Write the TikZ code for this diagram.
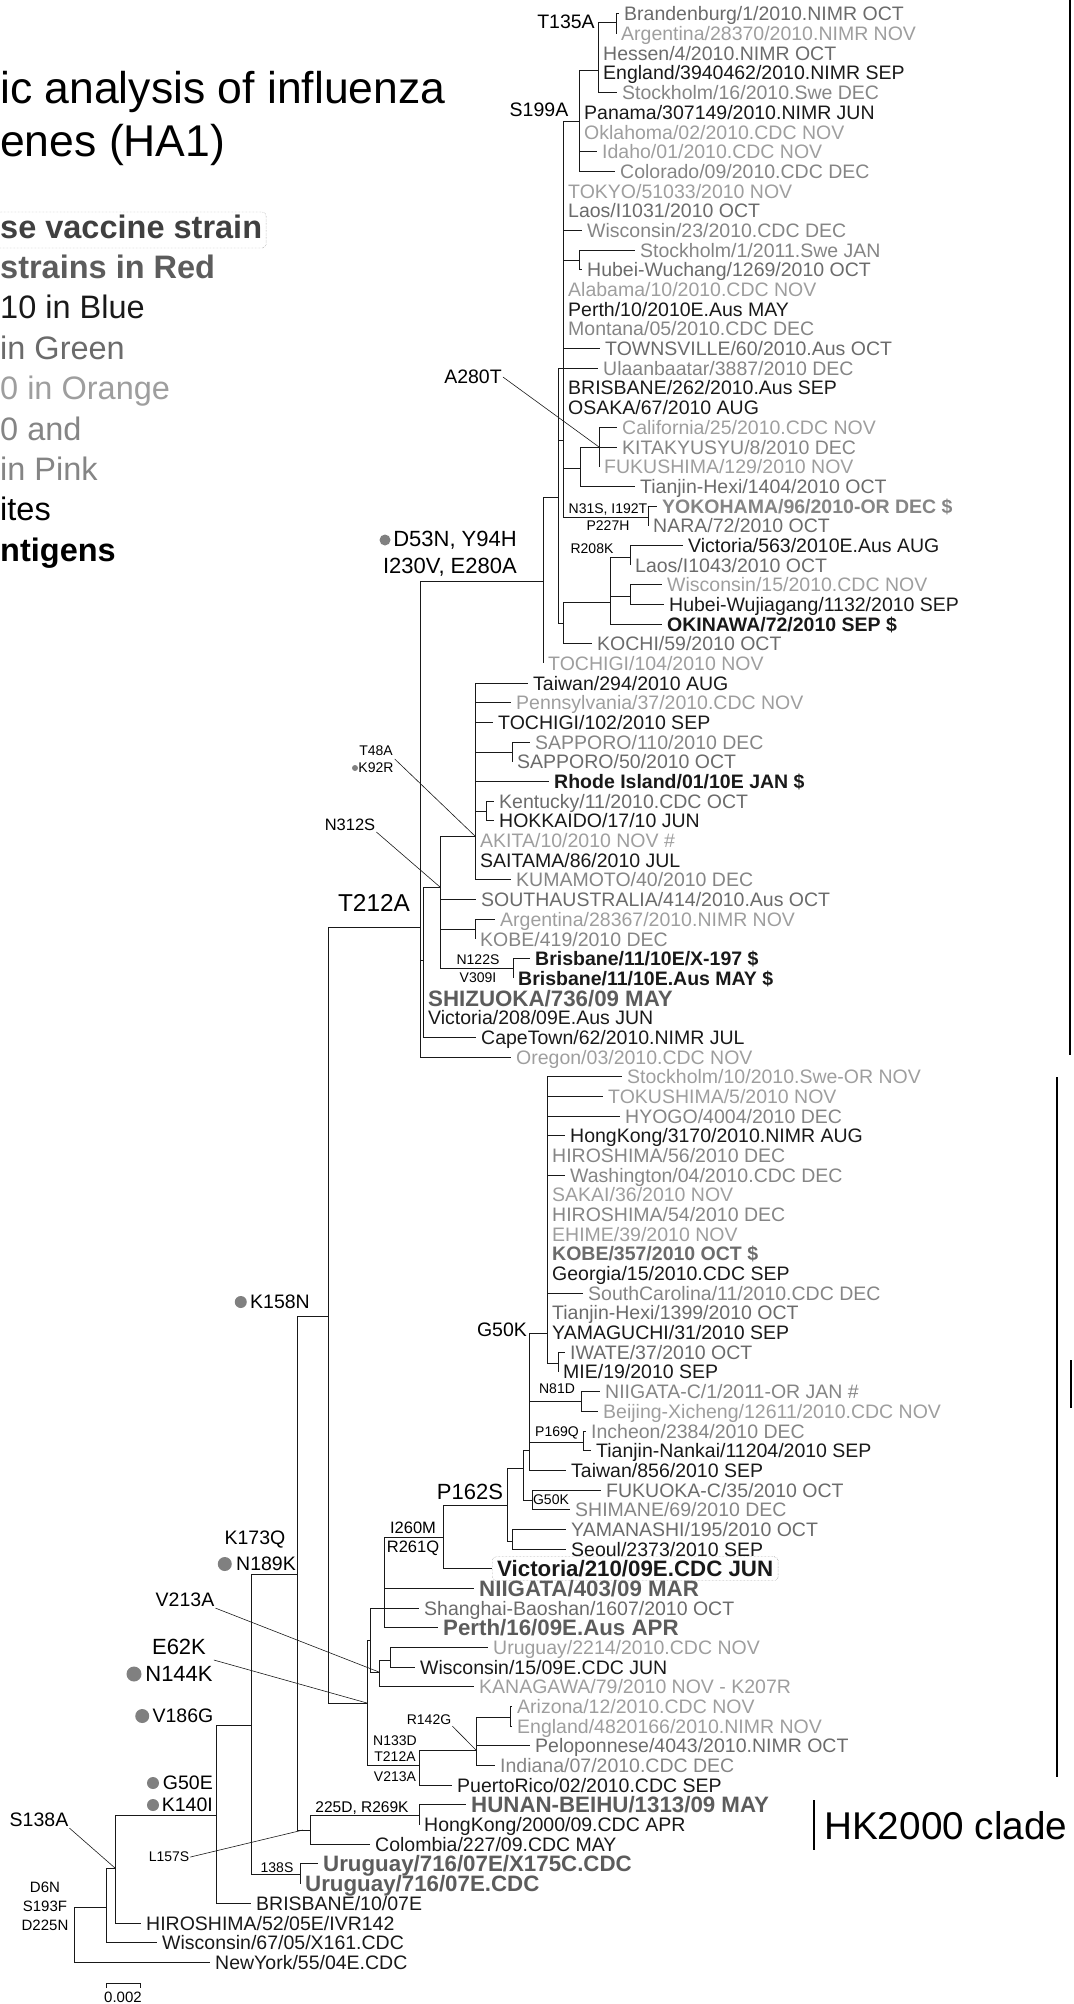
\documentclass[tikz,border=0pt]{standalone}
\usepackage{fontspec}
\setmainfont{Liberation Sans}
\usetikzlibrary{positioning}
\definecolor{strainblue}{gray}{0.1}
\definecolor{straingreen}{gray}{0.42}
\definecolor{strainorange}{gray}{0.62}
\definecolor{strainpink}{gray}{0.52}
\definecolor{strainred}{gray}{0.36}
\definecolor{vaccinegray}{gray}{0.25}
\definecolor{dotgray}{gray}{0.5}

\begin{document}
\begin{tikzpicture}[x=1pt,y=-1pt,
  branch/.style={line width=1pt,black!90},
  leader/.style={line width=0.6pt,black!90},
  cladebar/.style={line width=2.6pt},
  leaf/.style={anchor=west,inner xsep=5pt,inner ysep=0pt,text height=14pt,text depth=0pt,
               font=\fontsize{19.5}{22}\selectfont},
  bleaf/.style={leaf,text=strainblue},
  gleaf/.style={leaf,text=straingreen},
  oleaf/.style={leaf,text=strainorange},
  pleaf/.style={leaf,text=strainpink},
  antigen/.style={leaf,text=#1,font=\fontsize{19.5}{22}\selectfont\bfseries},
  rleaf/.style={leaf,text=strainred,text height=16pt,font=\fontsize{22.3}{26}\selectfont\bfseries},
  mut/.style={inner sep=1pt,align=center,font=\fontsize{14}{17}\selectfont},
  medmut/.style={inner sep=1pt,align=center,font=\fontsize{16.5}{19}\selectfont},
  midmut/.style={inner sep=1pt,align=center,font=\fontsize{19.5}{22}\selectfont},
  bigmut/.style={inner sep=1pt,align=center,font=\fontsize{22}{27}\selectfont},
  gdot/.style={circle,fill=dotgray,inner sep=0pt,minimum size=#1},
  legend/.style={anchor=base west,inner sep=0pt,font=\fontsize{32.5}{38}\selectfont}]
\useasboundingbox (0,0) rectangle (1073,2004);

\node[anchor=base west,inner sep=0pt,font=\fontsize{44.5}{50}\selectfont] (title1) at (0,104) {ic analysis of influenza};
\node[anchor=base west,inner sep=0pt,font=\fontsize{44.5}{50}\selectfont] (title2) at (0,157) {enes (HA1)};

\node[legend,text=vaccinegray,font=\fontsize{32.5}{38}\selectfont\bfseries,draw=black!50,densely dotted,
      rounded corners=4pt,inner xsep=4pt,inner ysep=3pt,text height=23pt,text depth=7pt] (leg1) at (-4,238) {se vaccine strain};
\node[legend,text=strainred,font=\fontsize{32.5}{38}\selectfont\bfseries] (leg2) at (0,278.4) {strains in Red};
\node[legend,text=strainblue] (leg3) at (0,318.8) {10 in Blue};
\node[legend,text=straingreen] (leg4) at (0,359.2) {in Green};
\node[legend,text=strainorange] (leg5) at (0,399.6) {0 in Orange};
\node[legend,text=strainpink] (leg6) at (0,440) {0 and};
\node[legend,text=strainpink] (leg7) at (0,480.4) {in Pink};
\node[legend] (leg8) at (0,520.8) {ites};
\node[legend,font=\fontsize{32.5}{38}\selectfont\bfseries] (leg9) at (0,561.2) {ntigens};

\coordinate (root) at (74,1907);
\coordinate (nA) at (106,1907);
\coordinate (nB) at (115,1868);
\coordinate (nC) at (216,1815);
\coordinate (nE) at (251,1725);
\coordinate (nUru) at (300,1874);
\coordinate (nCC) at (297,1574);
\coordinate (nL157) at (310,1830);
\coordinate (nHunan) at (419,1815);
\coordinate (nK158) at (328,1316);
\coordinate (nT212) at (420,927);
\coordinate (nU) at (423,960);
\coordinate (nN312) at (440,887);
\coordinate (nT48) at (475,836);
\coordinate (nSap) at (512,752);
\coordinate (nKen) at (486,811);
\coordinate (nArg) at (475,929);
\coordinate (nBris) at (513,968);
\coordinate (nD53) at (543,581);
\coordinate (nN1) at (558,497);
\coordinate (nS199) at (563,440);
\coordinate (nSub) at (579,122);
\coordinate (nHes) at (598,71);
\coordinate (nT135) at (616,23);
\coordinate (nSto) at (579,260);
\coordinate (nA280) at (580,468);
\coordinate (nCal) at (599,447);
\coordinate (nN31) at (648,517);
\coordinate (nQ) at (563,623);
\coordinate (nP) at (610,602);
\coordinate (nR208) at (630,557);
\coordinate (nWis) at (630,596);
\coordinate (nE62) at (367,1703);
\coordinate (nAA) at (370,1640);
\coordinate (nR261) at (384,1608);
\coordinate (nP162) at (443,1537);
\coordinate (nZ) at (507,1505);
\coordinate (nW2) at (523,1468);
\coordinate (nY) at (529,1450);
\coordinate (nG50) at (547,1333);
\coordinate (nIwa) at (558,1363);
\coordinate (nN81) at (581,1401);
\coordinate (nP169) at (583,1442);
\coordinate (nG50b) at (532,1500);
\coordinate (nYam) at (512,1541);
\coordinate (nV213) at (379,1672);
\coordinate (nUW) at (390,1660);
\coordinate (nN133) at (419,1765);
\coordinate (nR142) at (476,1750);
\coordinate (nAri) at (510,1717);
\coordinate (l157sb) at (303,1830);

\node[gleaf] (l1) at (619,14) {Brandenburg/1/2010.NIMR OCT};
\node[oleaf] (l2) at (616,33.7) {Argentina/28370/2010.NIMR NOV};
\node[gleaf] (l3) at (598,53.4) {Hessen/4/2010.NIMR OCT};
\node[bleaf] (l4) at (598,73) {England/3940462/2010.NIMR SEP};
\node[pleaf] (l5) at (617,92.7) {Stockholm/16/2010.Swe DEC};
\node[bleaf] (l6) at (579,112.4) {Panama/307149/2010.NIMR JUN};
\node[oleaf] (l7) at (579,132.1) {Oklahoma/02/2010.CDC NOV};
\node[oleaf] (l8) at (597,151.8) {Idaho/01/2010.CDC NOV};
\node[pleaf] (l9) at (615,171.4) {Colorado/09/2010.CDC DEC};
\node[oleaf] (l10) at (563,191.1) {TOKYO/51033/2010 NOV};
\node[gleaf] (l11) at (563,210.8) {Laos/I1031/2010 OCT};
\node[pleaf] (l12) at (582,230.5) {Wisconsin/23/2010.CDC DEC};
\node[pleaf] (l13) at (635,250.2) {Stockholm/1/2011.Swe JAN};
\node[gleaf] (l14) at (582,269.8) {Hubei-Wuchang/1269/2010 OCT};
\node[oleaf] (l15) at (563,289.5) {Alabama/10/2010.CDC NOV};
\node[bleaf] (l16) at (563,309.2) {Perth/10/2010E.Aus MAY};
\node[pleaf] (l17) at (563,328.9) {Montana/05/2010.CDC DEC};
\node[gleaf] (l18) at (600,348.6) {TOWNSVILLE/60/2010.Aus OCT};
\node[pleaf] (l19) at (598,368.2) {Ulaanbaatar/3887/2010 DEC};
\node[bleaf] (l20) at (563,387.9) {BRISBANE/262/2010.Aus SEP};
\node[bleaf] (l21) at (563,407.6) {OSAKA/67/2010 AUG};
\node[oleaf] (l22) at (617,427.3) {California/25/2010.CDC NOV};
\node[pleaf] (l23) at (617,447) {KITAKYUSYU/8/2010 DEC};
\node[oleaf] (l24) at (599,466.6) {FUKUSHIMA/129/2010 NOV};
\node[gleaf] (l25) at (635,486.3) {Tianjin-Hexi/1404/2010 OCT};
\node[antigen=strainpink] (l26) at (657,506) {YOKOHAMA/96/2010-OR DEC \$};
\node[gleaf] (l27) at (648,525.7) {NARA/72/2010 OCT};
\node[bleaf] (l28) at (683,545.4) {Victoria/563/2010E.Aus AUG};
\node[gleaf] (l29) at (630,565) {Laos/I1043/2010 OCT};
\node[oleaf] (l30) at (662,584.7) {Wisconsin/15/2010.CDC NOV};
\node[bleaf] (l31) at (664,604.4) {Hubei-Wujiagang/1132/2010 SEP};
\node[antigen=strainblue] (l32) at (662,624.1) {OKINAWA/72/2010 SEP \$};
\node[gleaf] (l33) at (592,643.8) {KOCHI/59/2010 OCT};
\node[oleaf] (l34) at (543,663.4) {TOCHIGI/104/2010 NOV};
\node[bleaf] (l35) at (528,683.1) {Taiwan/294/2010 AUG};
\node[oleaf] (l36) at (511,702.8) {Pennsylvania/37/2010.CDC NOV};
\node[bleaf] (l37) at (493,722.5) {TOCHIGI/102/2010 SEP};
\node[pleaf] (l38) at (530,742.2) {SAPPORO/110/2010 DEC};
\node[gleaf] (l39) at (512,761.8) {SAPPORO/50/2010 OCT};
\node[antigen=strainblue] (l40) at (549,781.5) {Rhode Island/01/10E JAN \$};
\node[gleaf] (l41) at (494,801.2) {Kentucky/11/2010.CDC OCT};
\node[bleaf] (l42) at (494,820.9) {HOKKAIDO/17/10 JUN};
\node[oleaf] (l43) at (475,840.6) {AKITA/10/2010 NOV \#};
\node[bleaf] (l44) at (475,860.2) {SAITAMA/86/2010 JUL};
\node[pleaf] (l45) at (511,879.9) {KUMAMOTO/40/2010 DEC};
\node[gleaf] (l46) at (476,899.6) {SOUTHAUSTRALIA/414/2010.Aus OCT};
\node[oleaf] (l47) at (495,919.3) {Argentina/28367/2010.NIMR NOV};
\node[pleaf] (l48) at (475,939) {KOBE/419/2010 DEC};
\node[antigen=strainblue] (l49) at (530,958.6) {Brisbane/11/10E/X-197 \$};
\node[antigen=strainblue] (l50) at (513,978.3) {Brisbane/11/10E.Aus MAY \$};
\node[rleaf] (l51) at (423,998) {SHIZUOKA/736/09 MAY};
\node[bleaf] (l52) at (423,1017.7) {Victoria/208/09E.Aus JUN};
\node[bleaf] (l53) at (476,1037.4) {CapeTown/62/2010.NIMR JUL};
\node[oleaf] (l54) at (511,1057) {Oregon/03/2010.CDC NOV};
\node[oleaf] (l55) at (622,1076.7) {Stockholm/10/2010.Swe-OR NOV};
\node[oleaf] (l56) at (603,1096.4) {TOKUSHIMA/5/2010 NOV};
\node[pleaf] (l57) at (620,1116.1) {HYOGO/4004/2010 DEC};
\node[bleaf] (l58) at (565,1135.8) {HongKong/3170/2010.NIMR AUG};
\node[pleaf] (l59) at (547,1155.4) {HIROSHIMA/56/2010 DEC};
\node[pleaf] (l60) at (565,1175.1) {Washington/04/2010.CDC DEC};
\node[oleaf] (l61) at (547,1194.8) {SAKAI/36/2010 NOV};
\node[pleaf] (l62) at (547,1214.5) {HIROSHIMA/54/2010 DEC};
\node[oleaf] (l63) at (547,1234.2) {EHIME/39/2010 NOV};
\node[antigen=straingreen] (l64) at (547,1253.8) {KOBE/357/2010 OCT \$};
\node[bleaf] (l65) at (547,1273.5) {Georgia/15/2010.CDC SEP};
\node[pleaf] (l66) at (583,1293.2) {SouthCarolina/11/2010.CDC DEC};
\node[gleaf] (l67) at (547,1312.9) {Tianjin-Hexi/1399/2010 OCT};
\node[bleaf] (l68) at (547,1332.6) {YAMAGUCHI/31/2010 SEP};
\node[gleaf] (l69) at (565,1352.2) {IWATE/37/2010 OCT};
\node[bleaf] (l70) at (558,1371.9) {MIE/19/2010 SEP};
\node[pleaf] (l71) at (600,1391.6) {NIIGATA-C/1/2011-OR JAN \#};
\node[oleaf] (l72) at (598,1411.3) {Beijing-Xicheng/12611/2010.CDC NOV};
\node[pleaf] (l73) at (586,1431) {Incheon/2384/2010 DEC};
\node[bleaf] (l74) at (591,1450.6) {Tianjin-Nankai/11204/2010 SEP};
\node[bleaf] (l75) at (566,1470.3) {Taiwan/856/2010 SEP};
\node[gleaf] (l76) at (601,1490) {FUKUOKA-C/35/2010 OCT};
\node[pleaf] (l77) at (570,1509.7) {SHIMANE/69/2010 DEC};
\node[gleaf] (l78) at (566,1529.4) {YAMANASHI/195/2010 OCT};
\node[bleaf] (l79) at (566,1549) {Seoul/2373/2010 SEP};
\node[antigen=strainblue,text height=16pt,font=\fontsize{22.3}{26}\selectfont\bfseries,draw=black!55,densely dotted,
      rounded corners=4pt,inner ysep=4pt] (l80) at (492,1568.7) {Victoria/210/09E.CDC JUN};
\node[rleaf] (l81) at (474,1588.4) {NIIGATA/403/09 MAR};
\node[gleaf] (l82) at (419,1608.1) {Shanghai-Baoshan/1607/2010 OCT};
\node[rleaf] (l83) at (438,1627.8) {Perth/16/09E.Aus APR};
\node[oleaf] (l84) at (488,1647.4) {Uruguay/2214/2010.CDC NOV};
\node[bleaf] (l85) at (415,1667.1) {Wisconsin/15/09E.CDC JUN};
\node[oleaf] (l86) at (474,1686.8) {KANAGAWA/79/2010 NOV - K207R};
\node[oleaf] (l87) at (512,1706.5) {Arizona/12/2010.CDC NOV};
\node[oleaf] (l88) at (512,1726.2) {England/4820166/2010.NIMR NOV};
\node[gleaf] (l89) at (530,1745.8) {Peloponnese/4043/2010.NIMR OCT};
\node[pleaf] (l90) at (495,1765.5) {Indiana/07/2010.CDC DEC};
\node[bleaf] (l91) at (452,1785.2) {PuertoRico/02/2010.CDC SEP};
\node[rleaf] (l92) at (466,1804.9) {HUNAN-BEIHU/1313/09 MAY};
\node[bleaf] (l93) at (419,1824.6) {HongKong/2000/09.CDC APR};
\node[bleaf] (l94) at (370,1844.2) {Colombia/227/09.CDC MAY};
\node[rleaf] (l95) at (318,1863.9) {Uruguay/716/07E/X175C.CDC};
\node[rleaf] (l96) at (300,1883.6) {Uruguay/716/07E.CDC};
\node[bleaf] (l97) at (251,1903.3) {BRISBANE/10/07E};
\node[bleaf] (l98) at (141,1923) {HIROSHIMA/52/05E/IVR142};
\node[bleaf] (l99) at (157,1942.6) {Wisconsin/67/05/X161.CDC};
\node[bleaf] (l100) at (210,1962.3) {NewYork/55/04E.CDC};

\draw[branch] (root) |- (nA) (root) |- (l100.west);
\draw[branch] (nA) |- (nB) (nA) |- (l99.west);
\draw[branch] (nB) |- (nC) (nB) |- (l98.west);
\draw[branch] (nC) |- (nE) (nC) |- (l97.west);
\draw[branch] (nE) |- (nCC) (nE) |- (nUru);
\draw[branch] (nUru) |- (l95.west) (nUru) |- (l96.west);
\draw[branch] (nCC) |- (nK158) (nCC) |- (nL157);
\draw[branch] (nL157) |- (nHunan) (nL157) |- (l94.west);
\draw[branch] (nHunan) |- (l92.west) (nHunan) |- (l93.west);
\draw[branch] (nK158) |- (nT212) (nK158) |- (nE62);
\draw[branch] (nT212) |- (nD53) (nT212) |- (nU) (nT212) |- (l54.west);
\draw[branch] (nU) |- (nN312) (nU) |- (l51.west) (nU) |- (l52.west) (nU) |- (l53.west);
\draw[branch] (nN312) |- (nT48) (nN312) |- (l46.west) (nN312) |- (nArg) (nN312) |- (nBris);
\draw[branch] (nT48) |- (l35.west) (nT48) |- (l36.west) (nT48) |- (l37.west) (nT48) |- (nSap)
  (nT48) |- (l40.west) (nT48) |- (nKen) (nT48) |- (l43.west) (nT48) |- (l44.west) (nT48) |- (l45.west);
\draw[branch] (nSap) |- (l38.west) (nSap) |- (l39.west);
\draw[branch] (nKen) |- (l41.west) (nKen) |- (l42.west);
\draw[branch] (nArg) |- (l47.west) (nArg) |- (l48.west);
\draw[branch] (nBris) |- (l49.west) (nBris) |- (l50.west);
\draw[branch] (nD53) |- (nN1) (nD53) |- (l34.west);
\draw[branch] (nN1) |- (l19.west) (nN1) |- (nS199) (nN1) |- (nQ);
\draw[branch] (nS199) |- (nSub) (nS199) |- (l10.west) (nS199) |- (l11.west) (nS199) |- (l12.west)
  (nS199) |- (nSto) (nS199) |- (l15.west) (nS199) |- (l16.west) (nS199) |- (l17.west)
  (nS199) |- (l18.west) (nS199) |- (l20.west) (nS199) |- (l21.west) (nS199) |- (nA280) (nS199) |- (nN31);
\draw[branch] (nSub) |- (nHes) (nSub) |- (l6.west) (nSub) |- (l7.west) (nSub) |- (l8.west) (nSub) |- (l9.west);
\draw[branch] (nHes) |- (nT135) (nHes) |- (l3.west) (nHes) |- (l4.west) (nHes) |- (l5.west);
\draw[branch] (nT135) |- (l1.west) (nT135) |- (l2.west);
\draw[branch] (nSto) |- (l13.west) (nSto) |- (l14.west);
\draw[branch] (nA280) |- (nCal) (nA280) |- (l25.west);
\draw[branch] (nCal) |- (l22.west) (nCal) |- (l23.west) (nCal) |- (l24.west);
\draw[branch] (nN31) |- (l26.west) (nN31) |- (l27.west);
\draw[branch] (nQ) |- (nP) (nQ) |- (l33.west);
\draw[branch] (nP) |- (nR208) (nP) |- (nWis) (nP) |- (l32.west);
\draw[branch] (nR208) |- (l28.west) (nR208) |- (l29.west);
\draw[branch] (nWis) |- (l30.west) (nWis) |- (l31.west);
\draw[branch] (nE62) |- (nAA) (nE62) |- (nN133);
\draw[branch] (nAA) |- (nR261) (nAA) |- (nV213);
\draw[branch] (nR261) |- (nP162) (nR261) |- (l81.west) (nR261) |- (l82.west) (nR261) |- (l83.west);
\draw[branch] (nP162) |- (nZ) (nP162) |- (l80.west);
\draw[branch] (nZ) |- (nW2) (nZ) |- (nYam);
\draw[branch] (nW2) |- (nY) (nW2) |- (nG50b);
\draw[branch] (nY) |- (nG50) (nY) |- (nN81) (nY) |- (nP169) (nY) |- (l75.west);
\draw[branch] (nG50) |- (l55.west) (nG50) |- (l56.west) (nG50) |- (l57.west) (nG50) |- (l58.west)
  (nG50) |- (l59.west) (nG50) |- (l60.west) (nG50) |- (l61.west) (nG50) |- (l62.west)
  (nG50) |- (l63.west) (nG50) |- (l64.west) (nG50) |- (l65.west) (nG50) |- (l66.west)
  (nG50) |- (l67.west) (nG50) |- (l68.west) (nG50) |- (nIwa);
\draw[branch] (nIwa) |- (l69.west) (nIwa) |- (l70.west);
\draw[branch] (nN81) |- (l71.west) (nN81) |- (l72.west);
\draw[branch] (nP169) |- (l73.west) (nP169) |- (l74.west);
\draw[branch] (nG50b) |- (l76.west) (nG50b) |- (l77.west);
\draw[branch] (nYam) |- (l78.west) (nYam) |- (l79.west);
\draw[branch] (nV213) |- (nUW) (nV213) |- (l86.west);
\draw[branch] (nUW) |- (l84.west) (nUW) |- (l85.west);
\draw[branch] (nN133) |- (nR142) (nN133) |- (l91.west);
\draw[branch] (nR142) |- (nAri) (nR142) |- (l89.west) (nR142) |- (l90.west);
\draw[branch] (nAri) |- (l87.west) (nAri) |- (l88.west);

\node[midmut] (t135a) at (566,22) {T135A};
\node[midmut] (s199a) at (539,110) {S199A};
\node[midmut] (a280t) at (473,377) {A280T};
\node[bigmut,align=right,anchor=east] (d53n) at (518,554) {D53N, Y94H\\I230V, E280A};
\node[gdot=11pt] (dd53n) at (385,540) {};
\node[mut] (n31s) at (608,517) {N31S, I192T\\P227H};
\node[mut] (r208k) at (592,549) {R208K};
\node[inner sep=1pt,font=\fontsize{24.4}{28}\selectfont] (t212a) at (374,903) {T212A};
\node[mut] (t48a) at (376,759) {T48A\\K92R};
\node[gdot=6pt] (dk92r) at (355,768) {};
\node[medmut] (n312s) at (350,825) {N312S};
\node[mut,font=\fontsize{14}{18}\selectfont] (n122s) at (478,969) {N122S\\V309I};
\node[midmut] (k158n) at (280,1302) {K158N};
\node[gdot=12pt,left=2pt of k158n] (dk158n) {};
\node[midmut] (g50k) at (502,1330) {G50K};
\node[mut] (n81d) at (557,1389) {N81D};
\node[mut] (p169q) at (557,1433) {P169Q};
\node[mut] (g50kb) at (551,1500) {G50K};
\node[bigmut] (p162s) at (470,1492) {P162S};
\node[medmut] (i260m) at (413,1528) {I260M};
\node[medmut] (r261q) at (413,1548) {R261Q};
\node[midmut] (k173q) at (255,1540) {K173Q};
\node[midmut] (n189k) at (266,1564) {N189K};
\node[gdot=14pt,left=3pt of n189k] (dn189k) {};
\node[midmut] (v213a) at (185,1600) {V213A};
\node[bigmut] (e62k) at (179,1660) {E62K\\N144K};
\node[gdot=15pt] (dn144k) at (134,1674) {};
\node[midmut] (v186g) at (183,1716) {V186G};
\node[gdot=14pt,left=2pt of v186g] (dv186g) {};
\node[mut] (r142g) at (429,1720) {R142G};
\node[mut] (n133d) at (395,1741) {N133D};
\node[mut] (t212ab) at (395,1757) {T212A};
\node[mut] (v213ab) at (395,1777) {V213A};
\node[midmut,align=right,anchor=east] (g50e) at (214,1794) {G50E\\K140I};
\node[gdot=12pt] (dg50e) at (153,1783) {};
\node[gdot=12pt] (dk140i) at (153,1805) {};
\node[midmut] (s138a) at (39,1820) {S138A};
\node[inner sep=1pt,align=center,font=\fontsize{15}{19}\selectfont] (d6n) at (45,1906) {D6N\\S193F\\D225N};
\node[mut] (l157s) at (169,1857) {L157S};
\node[inner sep=1pt,font=\fontsize{15.5}{18}\selectfont] (r269k) at (362,1808) {225D, R269K};
\node[mut] (s138) at (277,1868) {138S};

\draw[leader] (a280t.east) -- (nCal);
\draw[leader] (t48a.east) -- (nT48);
\draw[leader] (n312s.south east) -- (nN312);
\draw[leader] (v213a.south east) -- (nV213);
\draw[leader] (e62k.east) -- (nE62);
\draw[leader] (s138a.south east) -- (nB);
\draw[leader] (l157s.east) -- (l157sb);
\draw[leader] (r142g.south east) -- (nR142);

\node[inner sep=1pt,font=\fontsize{15}{18}\selectfont] (scale) at (123,1997) {0.002};
\draw[branch] (106,1988) -- (106,1983) -- (140,1983) -- (140,1988);

\draw[cladebar] (1070,0) -- (1070,1055);
\draw[cladebar] (1057,1077) -- (1057,1777);
\draw[cladebar] (1071,1360) -- (1071,1408);
\node[anchor=base west,inner sep=0pt,font=\fontsize{38.7}{44}\selectfont] (hk) at (824,1839) {HK2000 clade};
\draw[line width=1.6pt] ([xshift=-10pt,yshift=25pt]hk.west) -- ([xshift=-10pt,yshift=-25pt]hk.west);
\end{tikzpicture}
\end{document}
